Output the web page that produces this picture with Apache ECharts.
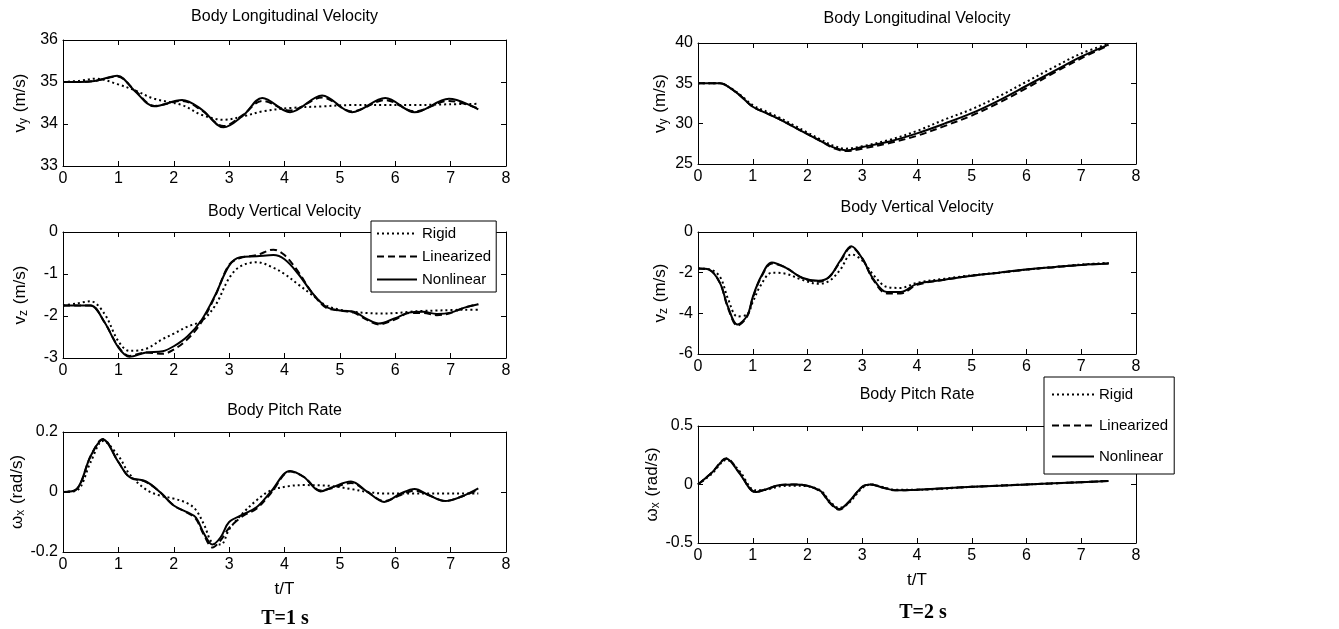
<!DOCTYPE html>
<html lang="en">
<head>
    <meta charset="UTF-8">
    <title>Body velocities and pitch rate</title>
    <script src="https://cdn.jsdelivr.net/npm/echarts@6/dist/echarts.min.js"></script>
    <style>
        body, html {
            margin: 0;
            height: 100%;
            background: #fff;
        }

        #chart {
            width: 1339px;
            height: 629px;
        }
    </style>
</head>
<body>
<div id="chart"></div>
<script>
    // ---- T = 1 s : body longitudinal velocity (m/s)
    const tLon1 = [0, 0.3, 0.6, 0.98, 1.3, 1.65, 2.15, 2.5, 2.9, 3.25, 3.6, 4.1, 4.68, 5.22, 5.82, 6.35, 6.97, 7.5];
    const rigidLon1 = [35.0, 35.03, 35.08, 34.95, 34.8, 34.6, 34.45, 34.22, 34.1, 34.18, 34.3, 34.38, 34.42, 34.45, 34.45, 34.45, 34.47, 34.48];
    const linLon1 = [35.0, 35.0, 35.03, 35.13, 34.8, 34.43, 34.55, 34.33, 33.95, 34.22, 34.55, 34.32, 34.63, 34.3, 34.57, 34.3, 34.55, 34.37];
    const nonLon1 = [35.0, 35.0, 35.03, 35.15, 34.78, 34.42, 34.57, 34.35, 33.92, 34.2, 34.62, 34.28, 34.68, 34.28, 34.62, 34.28, 34.6, 34.35];

    // ---- T = 1 s : body vertical velocity (m/s)
    const tVer1 = [0, 0.25, 0.5, 0.75, 1.0, 1.2, 1.5, 1.8, 2.0, 2.25, 2.5, 2.75, 3.0, 3.2, 3.5, 3.8, 4.0, 4.25, 4.5, 4.75, 5.0, 5.25, 5.5, 5.7, 6.0, 6.25, 6.5, 6.75, 7.0, 7.25, 7.5];
    const rigidVer1 = [-1.75, -1.7, -1.65, -1.95, -2.6, -2.83, -2.78, -2.55, -2.42, -2.25, -2.12, -1.75, -1.1, -0.82, -0.72, -0.85, -1.0, -1.25, -1.5, -1.75, -1.85, -1.9, -1.93, -1.94, -1.93, -1.9, -1.88, -1.87, -1.86, -1.85, -1.85];
    const linVer1 = [-1.75, -1.75, -1.75, -2.15, -2.73, -2.95, -2.87, -2.9, -2.8, -2.55, -2.15, -1.52, -0.78, -0.62, -0.55, -0.42, -0.55, -0.95, -1.45, -1.8, -1.87, -1.92, -2.1, -2.2, -2.08, -1.93, -1.93, -1.98, -1.93, -1.8, -1.72];
    const nonVer1 = [-1.75, -1.75, -1.75, -2.15, -2.75, -2.97, -2.87, -2.84, -2.72, -2.48, -2.1, -1.5, -0.8, -0.6, -0.58, -0.55, -0.65, -1.0, -1.45, -1.78, -1.87, -1.9, -2.08, -2.18, -2.05, -1.92, -1.9, -1.95, -1.92, -1.8, -1.72];

    // ---- T = 1 s : body pitch rate (rad/s)
    const tPit1 = [0, 0.25, 0.5, 0.72, 1.0, 1.2, 1.5, 1.75, 2.0, 2.25, 2.4, 2.55, 2.7, 2.85, 3.0, 3.25, 3.5, 3.75, 4.1, 4.35, 4.65, 4.85, 5.2, 5.5, 5.8, 6.1, 6.35, 6.6, 6.9, 7.2, 7.5];
    const rigidPit1 = [0, 0.005, 0.1, 0.17, 0.12, 0.06, 0.008, -0.012, -0.022, -0.038, -0.06, -0.11, -0.17, -0.175, -0.125, -0.07, -0.027, 0.005, 0.02, 0.023, 0.022, 0.02, 0.01, 0.0, -0.005, -0.005, -0.005, -0.005, -0.005, -0.005, -0.005];
    const linPit1 = [0, 0.01, 0.12, 0.177, 0.1, 0.05, 0.033, 0.0, -0.045, -0.07, -0.09, -0.145, -0.185, -0.16, -0.12, -0.08, -0.055, -0.005, 0.068, 0.05, 0.005, 0.012, 0.03, 0.0, -0.03, -0.01, 0.005, -0.01, -0.03, -0.015, 0.008];
    const nonPit1 = [0, 0.01, 0.12, 0.175, 0.1, 0.05, 0.035, 0.0, -0.045, -0.068, -0.085, -0.14, -0.175, -0.15, -0.1, -0.075, -0.05, 0.0, 0.07, 0.05, 0.002, 0.015, 0.035, 0.0, -0.033, -0.005, 0.01, -0.01, -0.03, -0.015, 0.012];

    // ---- T = 2 s : body longitudinal velocity (m/s)
    const tLon2 = [0, 0.4, 0.5, 0.75, 1.0, 1.25, 1.5, 1.75, 2.0, 2.25, 2.5, 2.7, 3.0, 3.5, 4.0, 4.5, 5.0, 5.5, 6.0, 6.5, 7.0, 7.5];
    const rigidLon2 = [35, 35, 34.8, 33.7, 32.3, 31.5, 30.7, 29.8, 28.9, 28.0, 27.2, 26.9, 27.2, 28.0, 29.1, 30.5, 31.8, 33.4, 35.2, 37.0, 38.7, 39.9];
    const linLon2 = [35, 35, 34.8, 33.6, 32.1, 31.3, 30.5, 29.6, 28.7, 27.8, 26.9, 26.6, 26.9, 27.6, 28.5, 29.7, 31.0, 32.6, 34.4, 36.3, 38.1, 39.7];
    const nonLon2 = [35, 35, 34.8, 33.6, 32.1, 31.3, 30.5, 29.6, 28.7, 27.8, 27.0, 26.7, 27.1, 27.8, 28.8, 30.0, 31.3, 32.9, 34.7, 36.5, 38.3, 39.8];

    // ---- T = 2 s : body vertical velocity (m/s)
    const tVer2 = [0, 0.2, 0.4, 0.55, 0.72, 0.9, 1.0, 1.15, 1.35, 1.6, 1.9, 2.2, 2.4, 2.6, 2.8, 3.0, 3.2, 3.45, 3.7, 4.0, 4.5, 5.0, 5.5, 6.0, 6.5, 7.0, 7.5];
    const rigidVer2 = [-1.8, -1.83, -2.2, -3.3, -4.15, -4.05, -3.45, -2.6, -2.0, -2.05, -2.35, -2.55, -2.4, -1.85, -1.1, -1.4, -2.1, -2.7, -2.75, -2.5, -2.3, -2.13, -2.0, -1.85, -1.72, -1.6, -1.52];
    const linVer2 = [-1.8, -1.85, -2.5, -3.75, -4.6, -4.15, -3.25, -2.25, -1.55, -1.75, -2.25, -2.45, -2.2, -1.45, -0.75, -1.3, -2.35, -3.02, -3.02, -2.6, -2.35, -2.15, -2.0, -1.85, -1.73, -1.62, -1.55];
    const nonVer2 = [-1.8, -1.85, -2.5, -3.7, -4.55, -4.1, -3.2, -2.2, -1.5, -1.75, -2.25, -2.4, -2.2, -1.4, -0.7, -1.3, -2.3, -2.95, -2.95, -2.55, -2.35, -2.15, -2.0, -1.85, -1.73, -1.62, -1.55];

    // ---- T = 2 s : body pitch rate (rad/s)
    const tPit2 = [0, 0.25, 0.52, 0.75, 1.05, 1.25, 1.5, 1.75, 2.0, 2.25, 2.4, 2.58, 2.75, 3.0, 3.15, 3.4, 3.6, 4.0, 5.0, 6.0, 7.0, 7.5];
    const rigidPit2 = [0, 0.09, 0.21, 0.12, -0.05, -0.045, -0.015, -0.01, -0.015, -0.055, -0.14, -0.2, -0.16, -0.03, 0.0, -0.025, -0.045, -0.045, -0.02, 0.0, 0.02, 0.03];
    const linPit2 = [0, 0.1, 0.225, 0.105, -0.065, -0.04, -0.005, 0.0, -0.012, -0.065, -0.155, -0.215, -0.155, -0.02, 0.0, -0.03, -0.05, -0.045, -0.02, 0.0, 0.02, 0.03];
    const nonPit2 = [0, 0.1, 0.22, 0.1, -0.065, -0.04, -0.005, 0.0, -0.01, -0.06, -0.15, -0.21, -0.15, -0.02, 0.0, -0.03, -0.05, -0.045, -0.02, 0.0, 0.02, 0.03];

    const seriesNames = ['Rigid', 'Linearized', 'Nonlinear'];
    const xTicks = {min: 0, max: 8, interval: 1};

    const FONT = '"Liberation Sans", Arial, Helvetica, sans-serif';

    // one entry per subplot
    const panels = [
        {t: tLon1, d: [rigidLon1, linLon1, nonLon1], min: 33, max: 36, step: 1, name: ['v', 'y', ' (m/s)'],
            grid: {left: 63, top: 40, width: 443, height: 126}, title: 'Body Longitudinal Velocity', titleY: 17},
        {t: tVer1, d: [rigidVer1, linVer1, nonVer1], min: -3, max: 0, step: 1, name: ['v', 'z', ' (m/s)'],
            grid: {left: 63, top: 232, width: 443, height: 126}, title: 'Body Vertical Velocity', titleY: 212},
        {t: tPit1, d: [rigidPit1, linPit1, nonPit1], min: -0.2, max: 0.2, step: 0.2, name: ['ω', 'x', ' (rad/s)'],
            grid: {left: 63, top: 432, width: 443, height: 120}, title: 'Body Pitch Rate', titleY: 411, bottom: true},
        {t: tLon2, d: [rigidLon2, linLon2, nonLon2], min: 25, max: 40, step: 5, name: ['v', 'y', ' (m/s)'],
            grid: {left: 698, top: 43, width: 438, height: 121}, title: 'Body Longitudinal Velocity', titleY: 19},
        {t: tVer2, d: [rigidVer2, linVer2, nonVer2], min: -6, max: 0, step: 2, name: ['v', 'z', ' (m/s)'],
            grid: {left: 698, top: 232, width: 438, height: 122}, title: 'Body Vertical Velocity', titleY: 208},
        {t: tPit2, d: [rigidPit2, linPit2, nonPit2], min: -0.5, max: 0.5, step: 0.5, name: ['ω', 'x', ' (rad/s)'],
            grid: {left: 698, top: 426, width: 438, height: 117}, title: 'Body Pitch Rate', titleY: 395, bottom: true}
    ];

    const lineTypes = [[2, 3], [7, 4], 'solid'];

    const grids = [], xAxes = [], yAxes = [], series = [], graphics = [];
    const axisLine = {show: true, onZero: false, lineStyle: {color: '#000', width: 1}};
    const ticks = {show: true, inside: true, length: 5, lineStyle: {color: '#000'}};
    const labelStyle = {color: '#000', fontSize: 16, fontFamily: FONT};

    panels.forEach((p, i) => {
        grids.push(p.grid);
        const isRight = p.grid.left > 600;

        // bottom and top x axes
        xAxes.push({
            type: 'value', gridIndex: i, position: 'bottom', ...xTicks,
            axisLine, axisTick: ticks, splitLine: {show: false},
            axisLabel: {...labelStyle, margin: 5},
            name: p.bottom ? 't/T' : '', nameLocation: 'middle', nameGap: 29,
            nameTextStyle: {color: '#000', fontSize: 17, fontFamily: FONT}
        });
        xAxes.push({
            type: 'value', gridIndex: i, position: 'top', ...xTicks,
            axisLine, axisTick: ticks, splitLine: {show: false}, axisLabel: {show: false}
        });

        // left and right y axes
        yAxes.push({
            type: 'value', gridIndex: i, position: 'left', min: p.min, max: p.max, interval: p.step,
            axisLine, axisTick: ticks, splitLine: {show: false},
            axisLabel: {...labelStyle, margin: 5},
            name: `{m|${p.name[0]}}{s|${p.name[1]}}{m|${p.name[2]}}`,
            nameLocation: 'middle', nameGap: isRight ? 28 : 33,
            nameTextStyle: {
                color: '#000',
                rich: {
                    m: {fontSize: 17, fontFamily: FONT, color: '#000', lineHeight: 18, verticalAlign: 'top'},
                    s: {fontSize: 12, fontFamily: FONT, color: '#000', lineHeight: 12, verticalAlign: 'bottom', padding: [10, 1, 0, 0]}
                }
            }
        });
        yAxes.push({
            type: 'value', gridIndex: i, position: 'right', min: p.min, max: p.max, interval: p.step,
            axisLine, axisTick: ticks, splitLine: {show: false}, axisLabel: {show: false}
        });

        p.d.forEach((vals, k) => {
            series.push({
                name: seriesNames[k],
                type: 'line',
                xAxisIndex: i * 2,
                yAxisIndex: i * 2,
                symbol: 'none',
                smooth: 0.35,
                z: 3 - k,
                itemStyle: {color: '#000'},
                lineStyle: {color: '#000', width: 2, type: lineTypes[k]},
                data: p.t.map((x, j) => [x, vals[j]])
            });
        });

        graphics.push({
            type: 'text',
            x: p.grid.left + p.grid.width / 2,
            y: p.titleY,
            style: {text: p.title, fill: '#000', font: `16px ${FONT}`, textAlign: 'center', textVerticalAlign: 'middle'}
        });
    });

    graphics.push({
        type: 'text', x: 285, y: 619,
        style: {text: 'T=1 s', fill: '#000', font: 'bold 20px "Liberation Serif", "Times New Roman", serif', textAlign: 'center', textVerticalAlign: 'middle'}
    });
    graphics.push({
        type: 'text', x: 923, y: 613,
        style: {text: 'T=2 s', fill: '#000', font: 'bold 20px "Liberation Serif", "Times New Roman", serif', textAlign: 'center', textVerticalAlign: 'middle'}
    });

    const legendBase = {
        orient: 'vertical',
        data: seriesNames,
        itemHeight: 10,
        backgroundColor: '#fff',
        borderColor: '#000',
        borderWidth: 1,
        borderRadius: 0,
        selectedMode: false,
        itemStyle: {opacity: 0},
        textStyle: {color: '#000', fontSize: 15, fontFamily: FONT}
    };

    const chart = echarts.init(document.getElementById('chart'));
    chart.setOption({
        animation: false,
        backgroundColor: '#fff',
        grid: grids,
        xAxis: xAxes,
        yAxis: yAxes,
        legend: [
            {...legendBase, left: 371, top: 221, itemWidth: 40, itemGap: 8, padding: [5, 5, 5, 5]},
            {...legendBase, left: 1044, top: 377, itemWidth: 42, itemGap: 16, padding: [10, 6, 10, 7]}
        ],
        series,
        graphic: graphics
    });
</script>
</body>
</html>
